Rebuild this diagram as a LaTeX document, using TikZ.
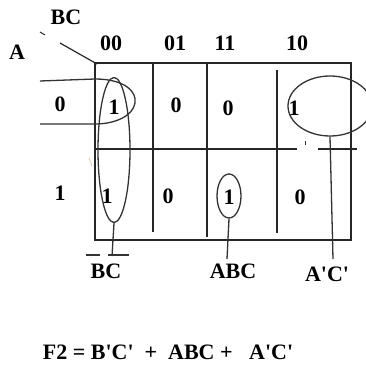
\documentclass[tikz,border=0pt]{standalone}
\usepackage{fontspec}
\setmainfont{Liberation Serif}
\usetikzlibrary{shapes.geometric}
\newcommand{\ap}{\textquotesingle}
\begin{document}
\begin{tikzpicture}[x=1pt,y=-1pt,
  lbl/.style={font=\fontsize{22}{24}\selectfont\bfseries, inner sep=0pt, text=black},
  gridline/.style={line width=1.5pt, draw=black!85},
  loop/.style={line width=1.3pt, draw=black!80},
  oval/.style={ellipse, loop, inner sep=0pt}
]
\useasboundingbox (0,0) rectangle (365,366);
% header labels
\node[lbl] (bctop) at (66,17) {BC};
\node[lbl] (atop) at (17,52) {A};
\node[lbl] (h00) at (111,43) {00};
\node[lbl] (h01) at (175,43) {01};
\node[lbl] (h11) at (225,43) {11};
\node[lbl] (h10) at (297,43) {10};
\node[lbl] (r0) at (60,104) {0};
\node[lbl] (r1) at (60,193) {1};
% cells
\node[lbl] (c000) at (114,107) {1};
\node[lbl] (c001) at (176,105) {0};
\node[lbl] (c011) at (228,108) {0};
\node[lbl] (c010) at (294,108) {1};
\node[lbl] (c100) at (107,196) {1};
\node[lbl] (c101) at (168,196) {0};
\node[lbl] (c111) at (229,197) {1};
\node[lbl] (c110) at (300,197) {0};
% grid
\draw[gridline] (95,63) rectangle (351,240);
\draw[gridline] (95,149) -- (297,149);
\draw[gridline] (318,149) -- (357,149);
\draw[gridline] (153,63) -- (153,232);
\draw[gridline] (207,63) -- (207,237);
\draw[gridline] (277,70) -- (277,233);
\draw[line width=1pt, black!80] (305,141) -- (305,145);
\draw[line width=0.8pt, brown!40] (89,158) -- (92,166);
% diagonal
\draw[line width=1pt, black!85] (40,32) -- (45,35);
\draw[line width=1.2pt, black!85] (60,43) -- (97,64);
% groups
\node[oval, minimum width=32pt, minimum height=145pt] (eBC) at (114,150) {};
\node[oval, minimum width=24pt, minimum height=44pt] (eABC) at (229,196) {};
\node[oval, minimum width=84pt, minimum height=60pt] (eAC) at (330,106) {};
\draw[loop] (40,81) -- (95,79) .. controls (125,79) and (137,92) .. (135,103)
  .. controls (133,116) and (115,124) .. (95,124) -- (40,124);
% bottom labels
\node[lbl] (lBC) at (106,271) {BC};
\node[lbl] (lABC) at (233,271) {ABC};
\node[lbl] (lAC) at (327,274) {A\ap C\ap};
\coordinate (tBC) at (112,256);
\coordinate (tABC) at (227,259);
\coordinate (tAC) at (333,259);
\draw[loop] (86,255) -- (100,255);
\draw[loop] (108,255) -- (129,255);
\draw[loop] (eBC.south) -- (tBC);
\draw[loop] (eABC.south) -- (tABC);
\draw[loop] (eAC.south) -- (tAC);
% formula
\node[lbl] (f2) at (168,352) {F2 = B\ap C\ap\ \ +\ \ ABC +\ \ \ A\ap C\ap};
\end{tikzpicture}
\end{document}
